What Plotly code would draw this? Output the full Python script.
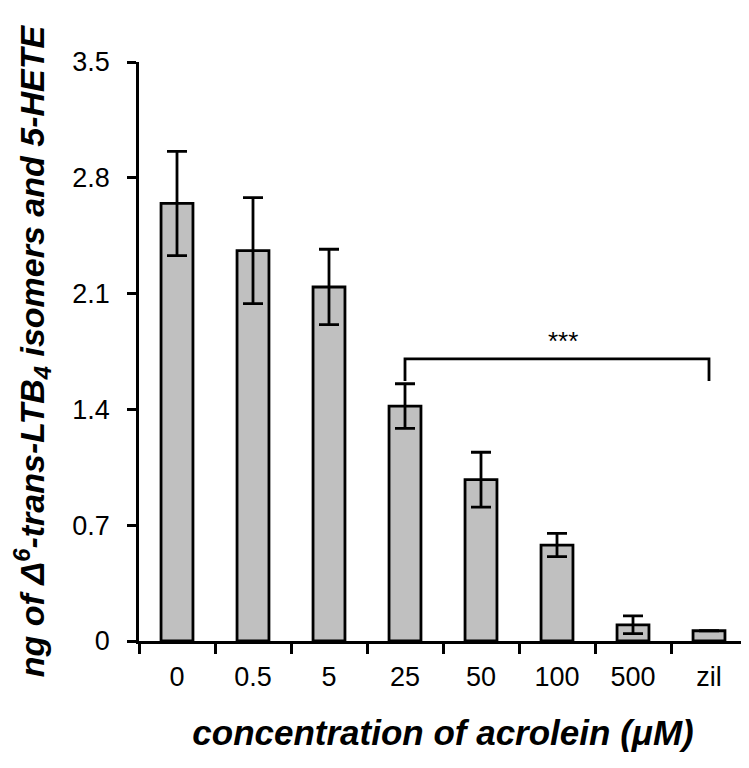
import plotly.graph_objects as go

# acrolein concentration groups (µM), last one is the zileuton control
categories = ["0", "0.5", "5", "25", "50", "100", "500", "zil"]
means = [2.645, 2.36, 2.14, 1.42, 0.975, 0.58, 0.098, 0.062]
errors = [0.315, 0.32, 0.228, 0.135, 0.166, 0.07, 0.054, 0.0]

y_ticks = [0, 0.7, 1.4, 2.1, 2.8, 3.5]
y_tick_text = ["0", "0.7", "1.4", "2.1", "2.8", "3.5"]

# significance bracket: from the 25 µM bar to the zil bar
bracket_from, bracket_to = "25", "zil"
bracket_y, bracket_foot = 1.705, 1.572
stars = "***"

FONT = "Liberation Sans, Arial, sans-serif"

fig = go.Figure(go.Bar(
    x=categories, y=means, width=0.42,
    marker=dict(color="#c0c0c0", line=dict(color="black", width=2.8)),
    error_y=dict(type="data", array=errors, visible=True, color="black",
                 thickness=2.8, width=10),
))

i0, i1 = categories.index(bracket_from), categories.index(bracket_to)
fig.add_shape(type="path", xref="x", yref="y",
              path=f"M {i0},{bracket_foot} L {i0},{bracket_y} L {i1},{bracket_y} L {i1},{bracket_foot}",
              line=dict(color="black", width=2.8))
# the stars sit a little right of the bracket's middle, over the 100 µM bar
fig.add_annotation(x=(i0 + i1) / 2 + 0.08, y=bracket_y, yshift=18, text=stars,
                   showarrow=False, font=dict(family=FONT, size=26, color="black"))

fig.update_xaxes(
    type="category", range=[-0.5, 7.5], tickson="boundaries",
    ticks="outside", ticklen=10, tickwidth=2.8, tickcolor="black",
    showline=True, linecolor="black", linewidth=2.8, showgrid=False,
    tickfont=dict(family=FONT, size=27, color="black"), ticklabelstandoff=10,
    title=dict(text="concentration of acrolein (<i>μ</i>M)", standoff=30,
               font=dict(family=FONT, size=35, color="black", weight="bold", style="italic")),
)
fig.update_yaxes(
    range=[0, 3.5], tickvals=y_ticks, ticktext=y_tick_text,
    ticks="outside", ticklen=9, tickwidth=2.8, tickcolor="black",
    showline=True, linecolor="black", linewidth=2.8, showgrid=False, zeroline=False,
    tickfont=dict(family=FONT, size=27, color="black"), ticklabelstandoff=12,
    title=dict(text="ng of <i>Δ</i><sup>6</sup>-trans-LTB<sub>4</sub> isomers and 5-HETE",
               standoff=20,
               font=dict(family=FONT, size=34, color="black", weight="bold", style="italic")),
)
fig.update_layout(
    width=749, height=768, plot_bgcolor="white", paper_bgcolor="white",
    margin=dict(l=131, r=10, t=54, b=135), showlegend=False,
)
fig.write_html("out.html")
